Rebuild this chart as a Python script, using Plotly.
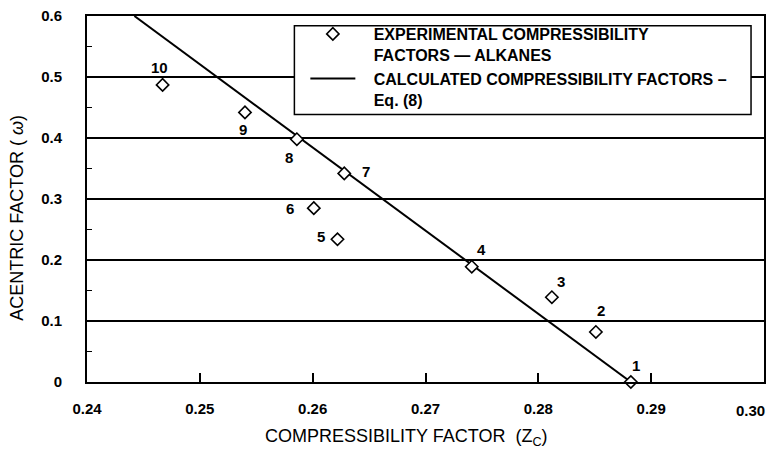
import plotly.graph_objects as go

# ---- data ----
point_ids = ["1", "2", "3", "4", "5", "6", "7", "8", "9", "10"]
zc_exp = [0.2882, 0.2851, 0.2812, 0.2741, 0.2622, 0.2601, 0.2628, 0.2586, 0.2540, 0.2467]
omega_exp = [0.000, 0.082, 0.139, 0.189, 0.234, 0.285, 0.342, 0.398, 0.442, 0.487]

zc_calc = [0.2442, 0.2882]
omega_calc = [0.600, 0.000]

x_tickvals = [0.24, 0.25, 0.26, 0.27, 0.28, 0.29, 0.30]
x_ticktext = ["0.24", "0.25", "0.26", "0.27", "0.28", "0.29", "0.30"]
y_tickvals = [0.0, 0.1, 0.2, 0.3, 0.4, 0.5, 0.6]
y_ticktext = ["0", "0.1", "0.2", "0.3", "0.4", "0.5", "0.6"]
y_minor_vals = [0.05, 0.15, 0.25, 0.35, 0.45, 0.55]

legend_exp = ["EXPERIMENTAL COMPRESSIBILITY", "FACTORS — ALKANES"]
legend_calc = ["CALCULATED COMPRESSIBILITY FACTORS –", "Eq. (8)"]

# ---- styles ----
FONT = "Liberation Sans, Arial, sans-serif"
W, H = 773, 451
ML, MR, MT, MB = 87, 7, 10, 69
PW, PH = W - ML - MR, H - MT - MB
# pixel offsets of the number labels relative to their diamonds (dx, dy; dy down)
label_offsets = [(5, -17), (5, -21), (9, -16), (10, -17), (-16, -3),
                 (-24, 0), (22, -2), (-8, 18), (-2, 17), (-3, -17)]
PAD = "\u00a0\u00a0\u00a0"


def px_x(px):
    return (px - ML) / PW


def px_y(py):
    return (H - MB - py) / PH


fig = go.Figure()

fig.add_trace(go.Scatter(
    x=zc_calc, y=omega_calc, mode="lines",
    line=dict(color="black", width=2),
    name="<br>".join(PAD + s for s in legend_calc),
    legendrank=2,
))

fig.add_trace(go.Scatter(
    x=zc_exp, y=omega_exp, mode="markers",
    marker=dict(symbol="diamond", size=9.5, color="white",
                line=dict(color="black", width=1.6)),
    name="<br>".join(PAD + s for s in legend_exp),
    legendrank=1,
    cliponaxis=False,
))

annotations = []
for pid, zx, wy, (dx, dy) in zip(point_ids, zc_exp, omega_exp, label_offsets):
    annotations.append(dict(
        x=zx, y=wy, xref="x", yref="y", text=pid, showarrow=False,
        xshift=dx, yshift=-dy, xanchor="center", yanchor="middle",
        font=dict(family=FONT, size=15, color="black", weight="bold"),
    ))

# last x tick label drawn right-aligned so it stays in the picture
annotations.append(dict(
    x=x_tickvals[-1], y=0, xref="x", yref="paper", text=x_ticktext[-1],
    showarrow=False, xanchor="right", yanchor="middle", xshift=3, yshift=-28,
    font=dict(family=FONT, size=15, color="black", weight="bold"),
))

# axis titles
annotations.append(dict(
    x=px_x(407), y=0, xref="paper", yref="paper",
    text="COMPRESSIBILITY FACTOR  (Z<sub>C</sub>)", showarrow=False,
    xanchor="center", yanchor="middle", yshift=-55,
    font=dict(family=FONT, size=18, color="black"),
))
annotations.append(dict(
    x=0, y=px_y(215), xref="paper", yref="paper",
    text="ACENTRIC FACTOR ( <i>ω</i>)", showarrow=False, textangle=-90,
    xanchor="center", yanchor="middle", xshift=-70,
    font=dict(family=FONT, size=18, color="black"),
))

# legend frame
shapes = [dict(
    type="rect", xref="paper", yref="paper",
    x0=px_x(295), x1=px_x(753), y0=px_y(110), y1=px_y(20),
    line=dict(color="black", width=1.5), fillcolor="white", layer="above",
)]

fig.update_layout(
    width=W, height=H,
    margin=dict(l=ML, r=MR, t=MT, b=MB),
    paper_bgcolor="white", plot_bgcolor="white",
    font=dict(family=FONT, color="black"),
    showlegend=True,
    legend=dict(
        x=px_x(306), y=px_y(11), xanchor="left", yanchor="top",
        bgcolor="rgba(0,0,0,0)", borderwidth=0,
        font=dict(family=FONT, size=16, color="black", weight="bold"),
        valign="top", itemwidth=45, tracegroupgap=0,
    ),
    annotations=annotations,
    shapes=shapes,
    xaxis=dict(
        range=[0.24, 0.30], tickvals=x_tickvals[:-1],
        ticktext=x_ticktext[:-1],
        ticks="inside", ticklen=9, tickwidth=1.5, tickcolor="black",
        showgrid=False, zeroline=False,
        showline=True, mirror=True, linecolor="black", linewidth=1.8,
        tickfont=dict(family=FONT, size=15, color="black", weight="bold"),
        ticklabelstandoff=12,
    ),
    yaxis=dict(
        range=[0, 0.6], tickvals=y_tickvals, ticktext=y_ticktext,
        ticks="inside", ticklen=5, tickwidth=1.5, tickcolor="black",
        showgrid=True, gridcolor="black", gridwidth=1.6,
        zeroline=False,
        showline=True, mirror=True, linecolor="black", linewidth=1.8,
        tickfont=dict(family=FONT, size=15, color="black", weight="bold"),
        ticklabelstandoff=20,
        minor=dict(tickvals=y_minor_vals, ticks="inside", ticklen=5,
                   tickwidth=1.2, tickcolor="black", showgrid=False),
    ),
)

fig.write_html("out.html")
